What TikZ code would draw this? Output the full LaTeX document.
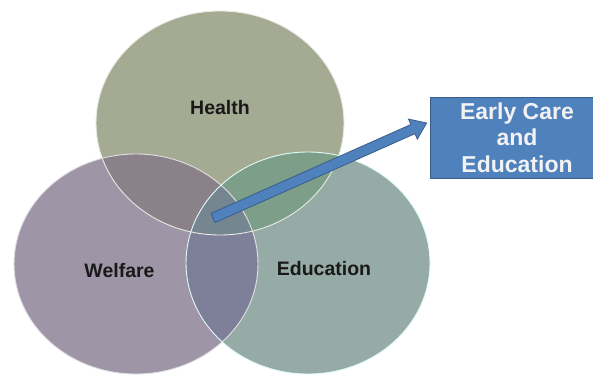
\documentclass[tikz,border=0pt]{standalone}
\usepackage{fontspec}
\setmainfont{Liberation Sans}
\usetikzlibrary{calc}
\definecolor{healthfill}{RGB}{165,171,146}
\definecolor{welfarefill}{RGB}{158,150,166}
\definecolor{educationfill}{RGB}{150,171,166}
\definecolor{hwfill}{RGB}{139,129,137}
\definecolor{hefill}{RGB}{125,158,136}
\definecolor{wefill}{RGB}{125,128,152}
\definecolor{hwefill}{RGB}{118,134,144}
\definecolor{careblue}{RGB}{79,129,189}
\definecolor{careedge}{RGB}{56,93,138}
\tikzset{
  setlabel/.style={font=\fontsize{19.5}{23}\selectfont\bfseries, text=black!90},
  ringline/.style={line width=0.9pt},
  carebox/.style={fill=careblue, draw=careedge, line width=0.8pt,
                  text=white!95!black, align=center,
                  font=\fontsize{23}{26.5}\selectfont\bfseries},
}
\newcommand\healthring{(220,123) ellipse [x radius=124pt, y radius=112pt]}
\newcommand\welfarering{(136,264) ellipse [x radius=122pt, y radius=110pt]}
\newcommand\educationring{(308,263) ellipse [x radius=122pt, y radius=111pt]}

\begin{document}
\begin{tikzpicture}[
  x=1pt,
  y=-1pt,
]

\clip (0,0) rectangle (593,375);
\fill [white] (0,0) rectangle (593,375);

\fill [healthfill] \healthring;
\fill [welfarefill] \welfarering;
\fill [educationfill] \educationring;
\begin{scope}
  \clip \healthring;
  \fill [hwfill] \welfarering;
  \fill [hefill] \educationring;
\end{scope}
\begin{scope}
  \clip \welfarering;
  \fill [wefill] \educationring;
\end{scope}
\begin{scope}
  \clip \healthring;
  \clip \welfarering;
  \fill [hwefill] \educationring;
\end{scope}
\draw [ringline, draw=healthfill!25!white] \healthring;
\draw [ringline, draw=welfarefill!30!white] \welfarering;
\draw [ringline, draw=educationfill!30!cyan!15!white] \educationring;

\node [setlabel] (health) at (220,108) {Health};
\node [setlabel] (welfare) at (119.5,271) {Welfare};
\node [setlabel] (education) at (324,268.5) {Education};

\node [carebox, minimum width=174pt, minimum height=81pt] (care) at (517,137.5)
      {Early Care\\and\\Education};

\coordinate (tail) at (213,218);
\coordinate (tip) at ([xshift=-3pt,yshift=14.5pt]care.west);
\coordinate (headbase) at ($(tip)!15pt!(tail)$);
\filldraw [fill=careblue, draw=careedge, line width=0.8pt, line join=miter]
  ($(tail)!5pt!90:(tip)$) -- ($(headbase)!5pt!90:(tip)$)
  -- ($(headbase)!11pt!90:(tip)$) -- (tip)
  -- ($(headbase)!11pt!-90:(tip)$) -- ($(headbase)!5pt!-90:(tip)$)
  -- ($(tail)!5pt!-90:(tip)$) -- cycle;

\end{tikzpicture}
\end{document}
